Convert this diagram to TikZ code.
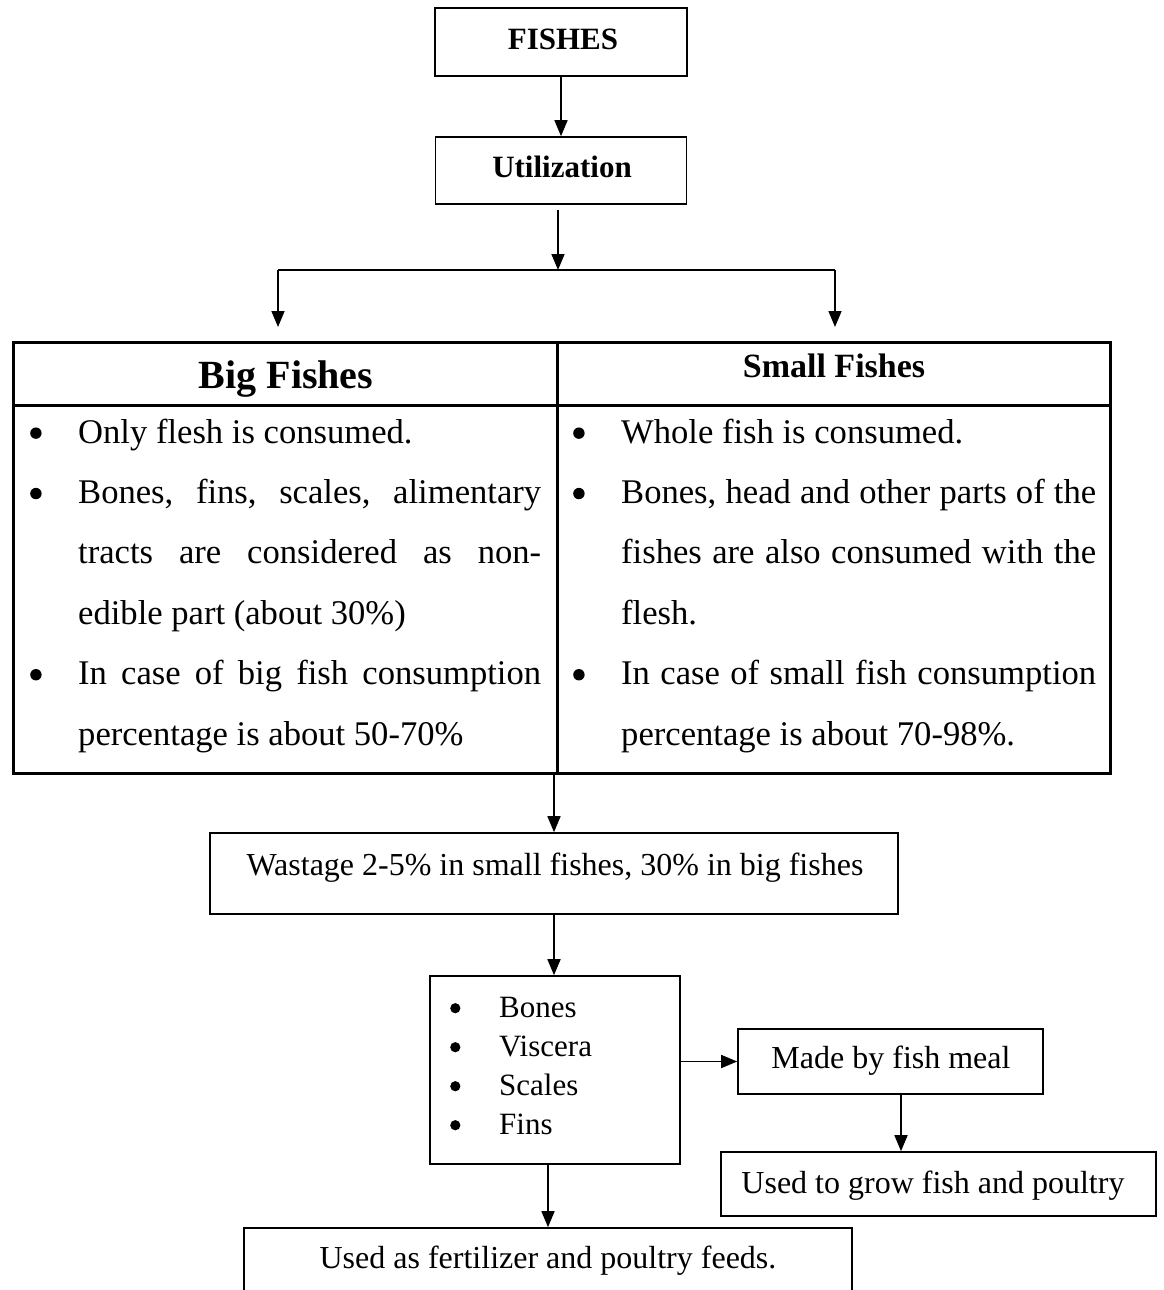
\documentclass[tikz,border=0pt]{standalone}
\usepackage{fontspec}
\setmainfont{Liberation Serif}
\usetikzlibrary{arrows.meta}
\newcommand{\bul}{\tikz[baseline=0pt]\fill (0.17em,0.29em) circle (0.165em);}
\newcommand{\fitem}[2][48pt]{\noindent\hangindent=#1\hangafter=1\strut\makebox[#1][l]{\bul}#2\par}
\tikzset{
  box/.style={draw, line width=1.6pt, inner sep=0pt},
  tbl/.style={draw, line width=3pt, inner sep=0pt},
  txt/.style={anchor=base, inner sep=0pt, font=\fontsize{32}{38}\selectfont},
  btxt/.style={anchor=base, inner sep=0pt, font=\fontsize{31}{38}\selectfont\bfseries},
  body/.style={anchor=north west, inner sep=0pt, align=justify,
     font=\fontsize{34.6}{60.4}\selectfont},
  arr/.style={line width=1.6pt, -{Triangle[length=16pt,width=13pt]}},
  conn/.style={line width=1.6pt},
}
\begin{document}
\begin{tikzpicture}[x=1pt,y=-1pt]
\useasboundingbox (0,0) rectangle (1164,1290);
\clip (0,0) rectangle (1164,1290);

% top boxes
\node[box, minimum width=252, minimum height=68] (fishes) at (561,42) {};
\node[btxt] (fishesT) at (563,50) {FISHES};
\node[box, minimum width=251, minimum height=67] (util) at (561,170.5) {};
\node[btxt] (utilT) at (562,177) {Utilization};

\coordinate (split) at (558,270);
\coordinate (lt) at (278,270);
\coordinate (rt) at (835,270);
\coordinate (lb) at (278,327);
\coordinate (rb) at (835,327);

\draw[arr] (fishes.south) -- (util.north);
\draw[arr] ([yshift=-5pt]util.south -| split) -- (split);
\draw[conn] (lt) -- (rt);
\draw[arr] (lt) -- (lb);
\draw[arr] (rt) -- (rb);

% table
\node[tbl, minimum width=544, minimum height=63] (bighead) at (285,373.5) {};
\node[tbl, minimum width=553, minimum height=63] (smallhead) at (833.5,373.5) {};
\node[tbl, minimum width=544, minimum height=368] (bigbody) at (285,589) {};
\node[tbl, minimum width=553, minimum height=368] (smallbody) at (833.5,589) {};

\node[anchor=base, inner sep=0pt, font=\fontsize{40}{48}\selectfont\bfseries] (bigT) at (286,388) {Big Fishes};
\node[anchor=base, inner sep=0pt, font=\fontsize{34}{40}\selectfont\bfseries] (smallT) at (834,377) {Small Fishes};

\node[body, text width=511pt] (bigtext) at (30,400.7) {\parskip=0pt%
\fitem{Only flesh is consumed.}%
\fitem{Bones, fins, scales, alimentary\linebreak tracts are considered as non-\linebreak edible part (about 30\%)}%
\fitem{In case of big fish consumption\linebreak percentage is about 50-70\%}};

\node[body, text width=523pt] (smalltext) at (573,400.7) {\parskip=0pt%
\fitem{Whole fish is consumed.}%
\fitem{Bones, head and other parts of the\linebreak fishes are also consumed with the\linebreak flesh.}%
\fitem{In case of small fish consumption\linebreak percentage is about 70-98\%.}};

% lower flow
\node[box, minimum width=688, minimum height=81] (waste) at (554,873.5) {};
\node[txt] (wasteT) at (555,875) {Wastage 2-5\% in small fishes, 30\% in big fishes};

\node[box, minimum width=250, minimum height=188] (bones) at (555,1070) {};
\node[anchor=north west, inner sep=0pt, text width=200pt,
      font=\fontsize{31}{39}\selectfont] (bonesT) at (450,989.7) {\parskip=0pt%
\fitem[49pt]{Bones}%
\fitem[49pt]{Viscera}%
\fitem[49pt]{Scales}%
\fitem[49pt]{Fins}};

\node[box, minimum width=305, minimum height=65] (made) at (890.5,1061.5) {};
\node[txt] (madeT) at (891,1068) {Made by fish meal};

\node[box, minimum width=435, minimum height=64] (grow) at (938.5,1184) {};
\node[txt] (growT) at (933,1193) {Used to grow fish and poultry};

\node[box, minimum width=608, minimum height=120] (fert) at (548,1288) {};
\node[txt] (fertT) at (548,1268) {Used as fertilizer and poultry feeds.};

\draw[arr] (waste.north |- bigbody.south) -- (waste.north);
\draw[arr] (waste.south) -- (waste.south |- bones.north);
\draw[arr] (bones.east |- made.west) -- (made.west);
\draw[arr] ([xshift=10.5pt]made.south) -- ([xshift=10.5pt]made.south |- grow.north);
\draw[arr] (fert.north |- bones.south) -- (fert.north);
\end{tikzpicture}
\end{document}
